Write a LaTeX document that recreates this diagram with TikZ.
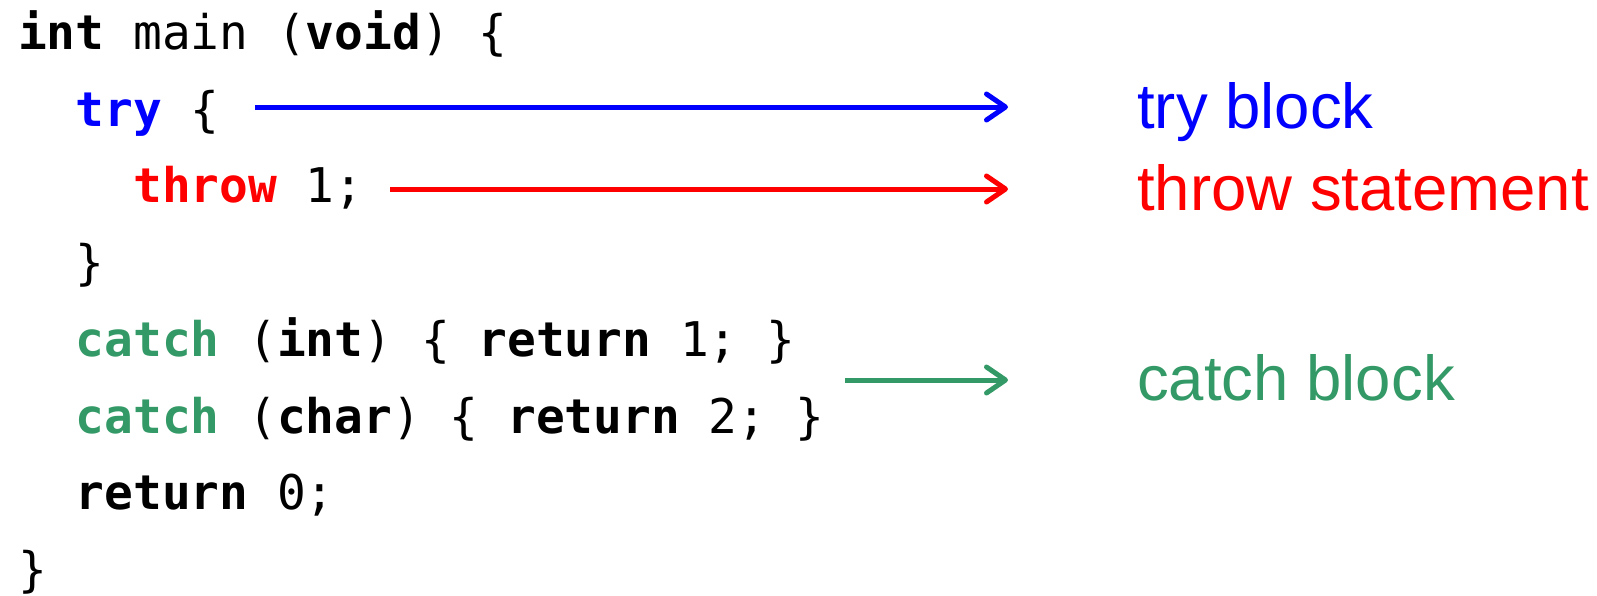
\documentclass[tikz,border=0pt]{standalone}
\usepackage{fontspec}
\setmainfont{Liberation Sans}
\newfontfamily\codefont{DejaVu Sans Mono}
\usetikzlibrary{arrows.meta}
\definecolor{tryblue}{RGB}{0,0,255}
\definecolor{throwred}{RGB}{255,0,0}
\definecolor{catchgreen}{RGB}{51,153,102}
\newcommand{\kw}[1]{\textbf{#1}}
\tikzset{
  codeline/.style={anchor=base west, inner sep=0pt, font=\codefont\fontsize{47.8}{60}\selectfont},
  lbl/.style={anchor=base west, inner sep=0pt, font=\fontsize{63.5}{70}\selectfont},
  arr/.style={line width=5pt, -{Straight Barb[length=19pt,width=26pt,round]}}
}
\begin{document}
\begin{tikzpicture}[x=1pt,y=-1pt]
\useasboundingbox (0,0) rectangle (1597,595);
\node[codeline] (l1) at (18,49) {\kw{int} main (\kw{void}) \{};
\node[codeline] (l2) at (18,126) {\phantom{xx}\textcolor{tryblue}{\kw{try}} \{};
\node[codeline] (l3) at (18,202) {\phantom{xxxx}\textcolor{throwred}{\kw{throw}} 1;};
\node[codeline] (l4) at (18,279) {\phantom{xx}\}};
\node[codeline] (l5) at (18,356) {\phantom{xx}\textcolor{catchgreen}{\kw{catch}} (\kw{int}) \{ \kw{return} 1; \}};
\node[codeline] (l6) at (18,433) {\phantom{xx}\textcolor{catchgreen}{\kw{catch}} (\kw{char}) \{ \kw{return} 2; \}};
\node[codeline] (l7) at (18,509) {\phantom{xx}\kw{return} 0;};
\node[codeline] (l8) at (18,586) {\}};
\node[lbl, text=tryblue] (tl) at (1137,128) {try block};
\node[lbl, text=throwred] (rl) at (1137,210) {throw statement};
\node[lbl, text=catchgreen] (cl) at (1137,400) {catch block};
\coordinate (ts) at (255,107);
\coordinate (te) at (1008,107);
\coordinate (rs) at (390,189);
\coordinate (re) at (1008,189);
\coordinate (cs) at (845,380);
\coordinate (ce) at (1008,380);
\draw[arr, tryblue] (ts) -- (te);
\draw[arr, throwred] (rs) -- (re);
\draw[arr, catchgreen] (cs) -- (ce);
\end{tikzpicture}
\end{document}
